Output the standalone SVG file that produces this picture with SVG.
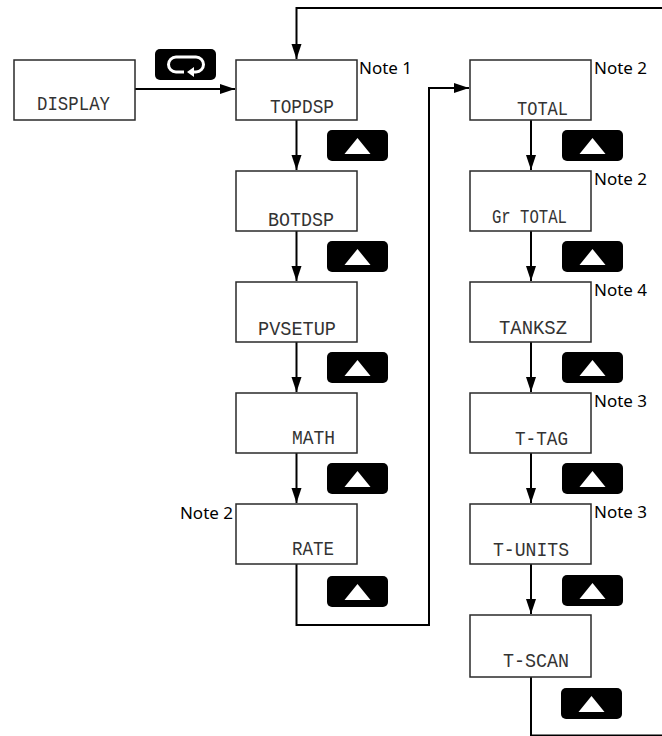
<svg xmlns="http://www.w3.org/2000/svg" xmlns:xlink="http://www.w3.org/1999/xlink" width="662" height="736" viewBox="0 0 662 736">
<style>
.box{fill:#fff;stroke:#2a2a2a;stroke-width:1.5}
.lcd{font-family:"Liberation Mono","DejaVu Sans Mono",monospace;font-size:21px;fill:#333;text-anchor:end}
.note{font-family:"Noto Sans","Open Sans",sans-serif;font-size:17px;fill:#000}
.con{fill:none;stroke:#000;stroke-width:2}
</style>
<defs>
<marker id="ah" markerUnits="userSpaceOnUse" markerWidth="16" markerHeight="12" refX="15" refY="5" orient="auto">
<path d="M0,0 L15,5 L0,10 Z" fill="#000"/>
</marker>
<g id="up">
<rect x="0" y="0" width="61" height="31" rx="5" fill="#000"/>
<polygon points="30.5,8 43.5,24 17.5,24" fill="#fff"/>
</g>
</defs>
<rect width="662" height="736" fill="#fff"/>

<g id="connectors">
<path class="con" d="M135,89 H235" marker-end="url(#ah)"/>
<path class="con" d="M662,8 H296.5 V59" marker-end="url(#ah)"/>
<path class="con" d="M531,677 V735.5 H662"/>
<path class="con" d="M296.5,120 V170" marker-end="url(#ah)"/>
<path class="con" d="M296.5,231 V281" marker-end="url(#ah)"/>
<path class="con" d="M296.5,342 V392" marker-end="url(#ah)"/>
<path class="con" d="M296.5,453 V503" marker-end="url(#ah)"/>
<path class="con" d="M296.5,564 V625 H429 V88 H469" marker-end="url(#ah)"/>
<path class="con" d="M531,120 V170" marker-end="url(#ah)"/>
<path class="con" d="M531,231 V281" marker-end="url(#ah)"/>
<path class="con" d="M531,342 V392" marker-end="url(#ah)"/>
<path class="con" d="M531,453 V503" marker-end="url(#ah)"/>
<path class="con" d="M531,564 V614" marker-end="url(#ah)"/>
</g>

<g id="btn-loop">
<rect x="155" y="49" width="61" height="31" rx="5" fill="#000"/>
<path d="M184,72 H176 A7.5,7.5 0 0 1 176,57 H196 A7.5,7.5 0 0 1 196,72 H194" fill="none" stroke="#fff" stroke-width="3"/>
<polygon points="187,72 194,67 194,77" fill="#fff"/>
</g>
<g id="buttons">
<use xlink:href="#up" x="327" y="130"/>
<use xlink:href="#up" x="327" y="241"/>
<use xlink:href="#up" x="327" y="352"/>
<use xlink:href="#up" x="327" y="463"/>
<use xlink:href="#up" x="327" y="576"/>
<use xlink:href="#up" x="562" y="130"/>
<use xlink:href="#up" x="562" y="241"/>
<use xlink:href="#up" x="562" y="352"/>
<use xlink:href="#up" x="562" y="463"/>
<use xlink:href="#up" x="562" y="575"/>
<use xlink:href="#up" x="561" y="688"/>
</g>

<g id="display"><rect class="box" x="14" y="60" width="121" height="60"/><text class="lcd" x="110" y="110" textLength="73" lengthAdjust="spacingAndGlyphs">DISPLAY</text></g>
<g id="topdsp"><rect class="box" x="236" y="60" width="121" height="60"/><text class="lcd" x="334" y="113" textLength="64" lengthAdjust="spacingAndGlyphs">TOPDSP</text><text class="note" x="359" y="74">Note 1</text></g>
<g id="botdsp"><rect class="box" x="236" y="171" width="121" height="60"/><text class="lcd" x="334" y="226" textLength="66" lengthAdjust="spacingAndGlyphs">BOTDSP</text></g>
<g id="pvsetup"><rect class="box" x="236" y="282" width="121" height="60"/><text class="lcd" x="336" y="335" textLength="78" lengthAdjust="spacingAndGlyphs">PVSETUP</text></g>
<g id="math"><rect class="box" x="236" y="393" width="121" height="60"/><text class="lcd" x="335" y="444" textLength="43" lengthAdjust="spacingAndGlyphs">MATH</text></g>
<g id="rate"><rect class="box" x="236" y="504" width="121" height="60"/><text class="lcd" x="334" y="555" textLength="42" lengthAdjust="spacingAndGlyphs">RATE</text><text class="note" x="233" y="519" text-anchor="end">Note 2</text></g>

<g id="total"><rect class="box" x="470" y="60" width="121" height="60"/><text class="lcd" x="568" y="115" textLength="51" lengthAdjust="spacingAndGlyphs">TOTAL</text><text class="note" x="594" y="74">Note 2</text></g>
<g id="grtotal"><rect class="box" x="470" y="171" width="121" height="60"/><text class="lcd" x="567" y="223" textLength="75" lengthAdjust="spacingAndGlyphs">Gr TOTAL</text><text class="note" x="594" y="185">Note 2</text></g>
<g id="tanksz"><rect class="box" x="470" y="282" width="121" height="60"/><text class="lcd" x="567" y="334" textLength="68" lengthAdjust="spacingAndGlyphs">TANKSZ</text><text class="note" x="594" y="296">Note 4</text></g>
<g id="t-tag"><rect class="box" x="470" y="393" width="121" height="60"/><text class="lcd" x="568" y="445" textLength="53" lengthAdjust="spacingAndGlyphs">T-TAG</text><text class="note" x="594" y="407">Note 3</text></g>
<g id="t-units"><rect class="box" x="470" y="504" width="121" height="60"/><text class="lcd" x="569" y="556" textLength="76" lengthAdjust="spacingAndGlyphs">T-UNITS</text><text class="note" x="594" y="518">Note 3</text></g>
<g id="t-scan"><rect class="box" x="470" y="615" width="121" height="62"/><text class="lcd" x="569" y="667" textLength="66" lengthAdjust="spacingAndGlyphs">T-SCAN</text></g>
</svg>
